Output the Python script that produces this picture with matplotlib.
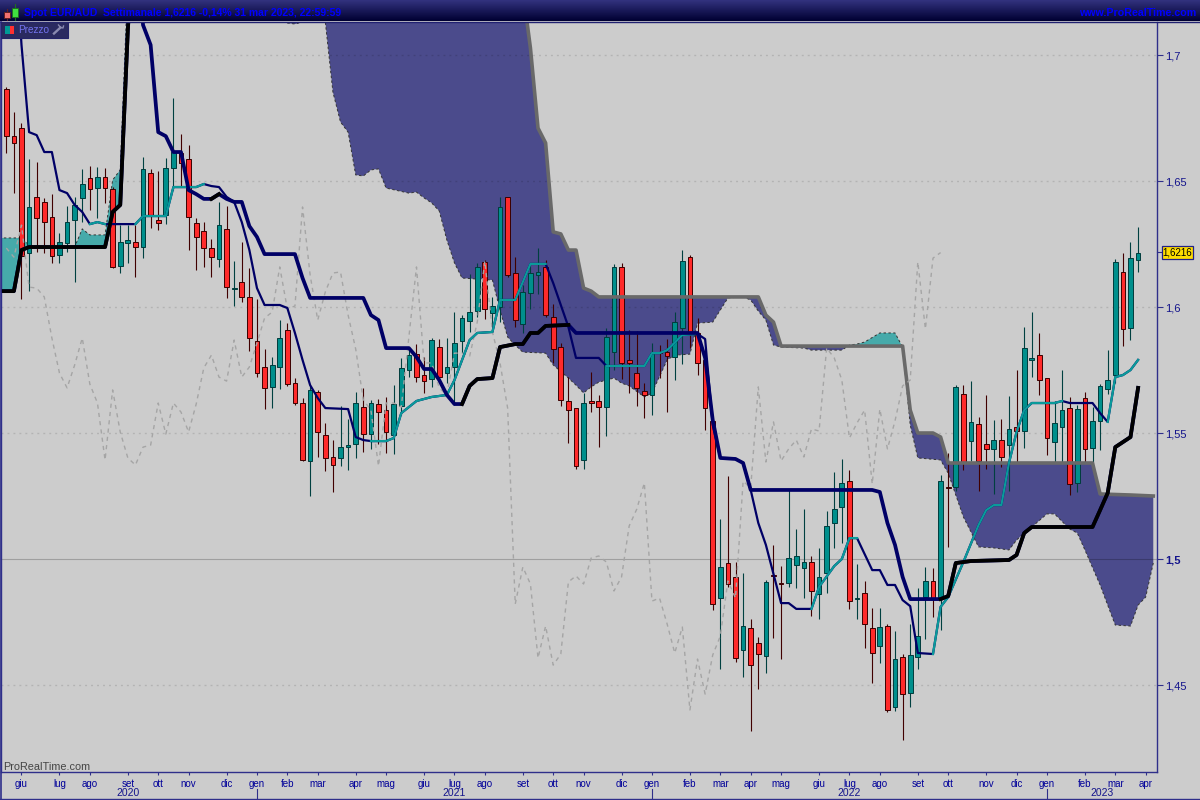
import matplotlib
matplotlib.use('Agg')
import matplotlib.pyplot as plt
import numpy as np
from matplotlib.colors import LinearSegmentedColormap
from matplotlib.patches import Rectangle

plt.rcParams['font.family'] = ['Liberation Sans', 'DejaVu Sans']

opens = [1.6865, 1.6678, 1.6710, 1.6214, 1.6437, 1.6417, 1.6357, 1.6206, 1.6254, 1.6345,
         1.6433, 1.6512, 1.6472, 1.6516, 1.6468, 1.6163, 1.6254, 1.6258, 1.6238, 1.6532,
         1.6345, 1.6365, 1.6552, 1.6611, 1.6587, 1.6333, 1.6302, 1.6234, 1.6190, 1.6310,
         1.6071, 1.6099, 1.6040, 1.5865, 1.5762, 1.5683, 1.5762, 1.5909, 1.5698, 1.5619,
         1.5389, 1.5663, 1.5492, 1.5405, 1.5401, 1.5444, 1.5456, 1.5603, 1.5496, 1.5615,
         1.5591, 1.5492, 1.5607, 1.5750, 1.5813, 1.5730, 1.5714, 1.5841, 1.5738, 1.5762,
         1.5865, 1.5944, 1.5984, 1.6179, 1.5976, 1.6000, 1.6437, 1.6135, 1.5933, 1.6056,
         1.6127, 1.6159, 1.5960, 1.5841, 1.5627, 1.5599, 1.5393, 1.5627, 1.5627, 1.5603,
         1.5821, 1.6159, 1.5790, 1.5738, 1.5667, 1.5651, 1.5821, 1.5821, 1.5802, 1.5917,
         1.6198, 1.5897, 1.5790, 1.5548, 1.4845, 1.4984, 1.4929, 1.4639, 1.4726, 1.4667,
         1.4615, 1.4937, 1.4905, 1.4905, 1.4976, 1.4964, 1.4988, 1.4861, 1.4944, 1.5143,
         1.5206, 1.5309, 1.4841, 1.4865, 1.4726, 1.4655, 1.4734, 1.4413, 1.4611, 1.4468,
         1.4611, 1.4849, 1.4913, 1.4845, 1.5286, 1.5286, 1.5655, 1.5468, 1.5536, 1.5456,
         1.5437, 1.5472, 1.5452, 1.5524, 1.5508, 1.5790, 1.5809, 1.5718, 1.5464, 1.5524,
         1.5599, 1.5302, 1.5639, 1.5440, 1.5548, 1.5675, 1.5730, 1.6139, 1.5917, 1.6187]
closes = [1.6678, 1.6651, 1.6202, 1.6397, 1.6353, 1.6337, 1.6202, 1.6258, 1.6337, 1.6405,
          1.6488, 1.6468, 1.6516, 1.6472, 1.6159, 1.6258, 1.6266, 1.6238, 1.6548, 1.6361,
          1.6333, 1.6552, 1.6615, 1.6571, 1.6357, 1.6278, 1.6234, 1.6198, 1.6325, 1.6079,
          1.6075, 1.6040, 1.5877, 1.5738, 1.5679, 1.5770, 1.5877, 1.5694, 1.5619, 1.5393,
          1.5671, 1.5504, 1.5401, 1.5373, 1.5444, 1.5452, 1.5619, 1.5496, 1.5619, 1.5583,
          1.5504, 1.5615, 1.5758, 1.5809, 1.5722, 1.5706, 1.5869, 1.5722, 1.5762, 1.5857,
          1.5956, 1.5980, 1.6159, 1.5992, 1.6004, 1.6397, 1.6127, 1.5948, 1.6060, 1.6135,
          1.6139, 1.5968, 1.5833, 1.5631, 1.5591, 1.5369, 1.5619, 1.5619, 1.5603, 1.5881,
          1.6159, 1.5778, 1.5778, 1.5679, 1.5651, 1.5817, 1.5817, 1.5805, 1.5940, 1.6182,
          1.5901, 1.5778, 1.5599, 1.4821, 1.4968, 1.4901, 1.4607, 1.4734, 1.4579, 1.4623,
          1.4909, 1.4933, 1.4901, 1.5004, 1.5012, 1.4988, 1.4873, 1.4929, 1.5131, 1.5198,
          1.5302, 1.4833, 1.4845, 1.4742, 1.4627, 1.4730, 1.4401, 1.4603, 1.4464, 1.4619,
          1.4694, 1.4913, 1.4845, 1.5309, 1.5282, 1.5683, 1.5385, 1.5544, 1.5389, 1.5437,
          1.5472, 1.5405, 1.5516, 1.5508, 1.5837, 1.5798, 1.5710, 1.5480, 1.5540, 1.5591,
          1.5298, 1.5595, 1.5437, 1.5548, 1.5687, 1.5710, 1.6179, 1.5913, 1.6194, 1.6216]
highs = [1.6873, 1.6774, 1.6730, 1.6587, 1.6575, 1.6433, 1.6448, 1.6294, 1.6401, 1.6437,
         1.6548, 1.6560, 1.6556, 1.6552, 1.6476, 1.6325, 1.6325, 1.6325, 1.6595, 1.6548,
         1.6540, 1.6591, 1.6829, 1.6686, 1.6643, 1.6353, 1.6337, 1.6270, 1.6417, 1.6401,
         1.6182, 1.6258, 1.6155, 1.6032, 1.5833, 1.5802, 1.5948, 1.5936, 1.5718, 1.5639,
         1.5690, 1.5671, 1.5540, 1.5472, 1.5607, 1.5556, 1.5663, 1.5679, 1.5631, 1.5635,
         1.5643, 1.5690, 1.5798, 1.5837, 1.5853, 1.5802, 1.5877, 1.5873, 1.5877, 1.5980,
         1.5968, 1.6131, 1.6175, 1.6187, 1.6040, 1.6437, 1.6437, 1.6198, 1.6087, 1.6171,
         1.6234, 1.6187, 1.6012, 1.5857, 1.5722, 1.5599, 1.5659, 1.5742, 1.5651, 1.5917,
         1.6171, 1.6175, 1.5909, 1.5905, 1.5698, 1.5857, 1.5849, 1.5873, 1.5980, 1.6226,
         1.6206, 1.5956, 1.5829, 1.5552, 1.5159, 1.5329, 1.4988, 1.4944, 1.4762, 1.4690,
         1.4917, 1.5056, 1.4972, 1.5274, 1.5119, 1.5198, 1.5012, 1.5044, 1.5190, 1.5345,
         1.5397, 1.5353, 1.4980, 1.4913, 1.4806, 1.4806, 1.4742, 1.4714, 1.4623, 1.4742,
         1.4885, 1.4968, 1.4964, 1.5333, 1.5421, 1.5690, 1.5690, 1.5706, 1.5563, 1.5651,
         1.5552, 1.5556, 1.5647, 1.5750, 1.5921, 1.5980, 1.5897, 1.5718, 1.5627, 1.5750,
         1.5643, 1.5611, 1.5663, 1.5603, 1.5694, 1.5829, 1.6190, 1.6214, 1.6258, 1.6317]
lows = [1.6611, 1.6452, 1.6032, 1.6063, 1.6218, 1.6214, 1.6175, 1.6175, 1.6218, 1.6099,
        1.6337, 1.6385, 1.6353, 1.6413, 1.6155, 1.6135, 1.6175, 1.6119, 1.6194, 1.6314,
        1.6306, 1.6329, 1.6464, 1.6476, 1.6226, 1.6147, 1.6159, 1.6119, 1.6159, 1.6036,
        1.6004, 1.6020, 1.5825, 1.5722, 1.5595, 1.5599, 1.5675, 1.5687, 1.5611, 1.5389,
        1.5250, 1.5405, 1.5349, 1.5266, 1.5369, 1.5353, 1.5401, 1.5425, 1.5437, 1.5456,
        1.5421, 1.5417, 1.5571, 1.5722, 1.5702, 1.5659, 1.5683, 1.5710, 1.5698, 1.5611,
        1.5817, 1.5901, 1.5960, 1.5952, 1.5921, 1.5940, 1.6119, 1.5921, 1.5897, 1.5992,
        1.6052, 1.5960, 1.5778, 1.5607, 1.5460, 1.5357, 1.5357, 1.5583, 1.5444, 1.5488,
        1.5750, 1.5714, 1.5659, 1.5607, 1.5560, 1.5571, 1.5718, 1.5583, 1.5710, 1.5774,
        1.5837, 1.5730, 1.5512, 1.4798, 1.4563, 1.4889, 1.4591, 1.4532, 1.4317, 1.4484,
        1.4548, 1.4687, 1.4603, 1.4889, 1.4885, 1.4845, 1.4774, 1.4762, 1.4865, 1.5044,
        1.5063, 1.4802, 1.4762, 1.4647, 1.4508, 1.4587, 1.4393, 1.4397, 1.4282, 1.4413,
        1.4563, 1.4683, 1.4770, 1.4718, 1.5048, 1.5270, 1.5353, 1.5389, 1.5270, 1.5357,
        1.5258, 1.5365, 1.5270, 1.5381, 1.5440, 1.5722, 1.5651, 1.5413, 1.5381, 1.5381,
        1.5254, 1.5266, 1.5381, 1.5381, 1.5433, 1.5655, 1.5698, 1.5845, 1.5869, 1.6139]

# thick ichimoku line, (week, price) at its corners
kijun_wk = [-1, 0, 1, 2, 3, 13, 14, 15, 16, 17, 18, 19, 20, 21, 22, 23, 24, 25, 26, 27, 28, 29, 30, 31, 32, 33, 34,
            38, 39, 40, 47, 48, 49, 50, 53, 54, 55, 56, 57, 58, 59, 60, 61, 62, 64, 65, 67, 68, 69, 70, 71, 74,
            75, 91, 92, 93, 94, 96, 97, 98, 114, 115, 116, 117, 118, 119, 123, 124, 125, 127, 132, 133, 134,
            135, 143, 144, 145, 146, 148, 149]
kijun_val = [1.6063, 1.6063, 1.6063, 1.6226, 1.6238, 1.6238, 1.6377, 1.6405, 1.7099, 1.7615, 1.7119, 1.7040, 1.6694,
             1.6678, 1.6615, 1.6615, 1.6464, 1.6448, 1.6429, 1.6429, 1.6448, 1.6429, 1.6417, 1.6417, 1.6321,
             1.6278, 1.6210, 1.6210, 1.6115, 1.6036, 1.6036, 1.5968, 1.5948, 1.5837, 1.5837, 1.5802, 1.5754,
             1.5754, 1.5710, 1.5651, 1.5615, 1.5615, 1.5687, 1.5714, 1.5718, 1.5841, 1.5853, 1.5853, 1.5897,
             1.5897, 1.5925, 1.5929, 1.5897, 1.5897, 1.5798, 1.5552, 1.5401, 1.5397, 1.5381, 1.5274, 1.5274,
             1.5266, 1.5143, 1.5056, 1.4929, 1.4841, 1.4841, 1.4853, 1.4984, 1.4992, 1.4996, 1.5016, 1.5103,
             1.5127, 1.5127, 1.5194, 1.5262, 1.5444, 1.5484, 1.5679]
kijun_black = [(-1, 17), (27, 28), (60, 74), (123, 149)]

# thin ichimoku line
tenkan_wk = [1, 2, 3, 4, 5, 6, 7, 8, 9, 10, 11, 12, 13, 17, 18, 21, 22, 25, 26, 27, 28, 29, 30, 31, 32, 33, 34,
             36, 37, 38, 39, 40, 41, 42, 45, 46, 47, 48, 50, 51, 52, 54, 56, 58, 59, 61, 62, 64, 65, 67, 69, 71,
             72, 74, 75, 78, 79, 84, 85, 86, 87, 89, 91, 92, 93, 94, 96, 97, 98, 99, 100, 102, 103, 104, 106,
             107, 109, 110, 111, 112, 114, 115, 116, 117, 118, 119, 120, 122, 123, 124, 126, 128, 129, 130,
             131, 132, 133, 134, 135, 138, 139, 140, 143, 144, 145, 146, 147, 148, 149]
tenkan_val = [1.7536, 1.7040, 1.6694, 1.6682, 1.6615, 1.6615, 1.6464, 1.6452, 1.6405, 1.6377, 1.6329, 1.6337,
              1.6329, 1.6329, 1.6361, 1.6361, 1.6476, 1.6476, 1.6488, 1.6480, 1.6476, 1.6437, 1.6417, 1.6337,
              1.6226, 1.6075, 1.6008, 1.6008, 1.5996, 1.5897, 1.5790, 1.5690, 1.5639, 1.5599, 1.5595, 1.5484,
              1.5472, 1.5468, 1.5468, 1.5480, 1.5579, 1.5627, 1.5643, 1.5651, 1.5710, 1.5869, 1.5897, 1.5901,
              1.6028, 1.6028, 1.6171, 1.6171, 1.6095, 1.5921, 1.5798, 1.5798, 1.5766, 1.5766, 1.5817, 1.5817,
              1.5829, 1.5889, 1.5893, 1.5873, 1.5532, 1.5401, 1.5397, 1.5381, 1.5274, 1.5143, 1.5056, 1.4825,
              1.4825, 1.4802, 1.4802, 1.4889, 1.4972, 1.5000, 1.5083, 1.5083, 1.4956, 1.4956, 1.4897, 1.4897,
              1.4837, 1.4813, 1.4627, 1.4623, 1.4810, 1.4849, 1.4988, 1.5135, 1.5194, 1.5214, 1.5214, 1.5381,
              1.5504, 1.5591, 1.5619, 1.5619, 1.5627, 1.5619, 1.5619, 1.5579, 1.5544, 1.5722, 1.5730, 1.5750,
              1.5790]
tenkan_teal = [(11, 13), (17, 26), (48, 71), (79, 91), (106, 112), (122, 139), (145, 149)]

# cloud edges, some corners sit above the visible range
span_a_wk = [-1, 0, 1, 2, 3, 4, 9, 10, 11, 13, 14, 15, 16, 36, 37, 38, 39, 42, 43, 44, 45, 46, 47, 48, 49, 50, 53, 54,
             55, 56, 57, 58, 59, 60, 64, 65, 66, 67, 68, 71, 72, 74, 75, 76, 77, 78, 80, 81, 82, 84, 85, 87, 88,
             90, 91, 93, 94, 95, 97, 98, 99, 100, 101, 102, 105, 106, 110, 111, 112, 113, 115, 117, 118, 119,
             120, 123, 124, 126, 128, 130, 132, 133, 134, 135, 137, 138, 140, 141, 142, 144, 145, 146, 148, 149,
             150, 151]
span_a_val = [1.6274, 1.6274, 1.6274, 1.6274, 1.6246, 1.6238, 1.6238, 1.6310, 1.6286, 1.6286, 1.6504, 1.6544, 1.7298,
              1.7298, 1.7127, 1.7123, 1.7131, 1.7131, 1.6853, 1.6734, 1.6694, 1.6524, 1.6520, 1.6544, 1.6548,
              1.6472, 1.6452, 1.6456, 1.6433, 1.6413, 1.6381, 1.6266, 1.6175, 1.6115, 1.6107, 1.5988, 1.5881,
              1.5849, 1.5821, 1.5817, 1.5770, 1.5718, 1.5690, 1.5659, 1.5683, 1.5702, 1.5718, 1.5698, 1.5687,
              1.5643, 1.5659, 1.5790, 1.5809, 1.5813, 1.5936, 1.5940, 1.5988, 1.6036, 1.6040, 1.6028, 1.5984,
              1.5948, 1.5849, 1.5841, 1.5837, 1.5829, 1.5829, 1.5849, 1.5853, 1.5861, 1.5897, 1.5897, 1.5841,
              1.5532, 1.5401, 1.5393, 1.5341, 1.5167, 1.5048, 1.5044, 1.5036, 1.5075, 1.5103, 1.5127, 1.5179,
              1.5179, 1.5119, 1.5103, 1.5036, 1.4897, 1.4817, 1.4738, 1.4734, 1.4817, 1.4849, 1.4984]
span_b_wk = [-1, 0, 1, 2, 3, 13, 14, 15, 16, 17, 68, 69, 70, 71, 72, 73, 74, 75, 76, 77, 78, 99, 100, 101, 102, 118,
             119, 120, 122, 123, 124, 143, 144, 148, 151]
span_b_val = [1.6063, 1.6063, 1.6063, 1.6226, 1.6238, 1.6238, 1.6377, 1.6405, 1.7079, 1.7377, 1.7258, 1.7028, 1.6710,
              1.6651, 1.6298, 1.6290, 1.6226, 1.6226, 1.6075, 1.6063, 1.6040, 1.6040, 1.5968, 1.5940, 1.5845,
              1.5845, 1.5591, 1.5500, 1.5500, 1.5484, 1.5381, 1.5381, 1.5258, 1.5254, 1.5250]

chikou_shift = 26

y_ticks = [1.45, 1.5, 1.55, 1.6, 1.65, 1.7]
y_labels = ['1,45', '1,5', '1,55', '1,6', '1,65', '1,7']
month_wk = [2, 7, 11, 16, 20, 24, 29, 33, 37, 41, 46, 50, 55, 59, 63, 68, 72, 76, 81, 85, 90, 94, 98, 102,
            107, 111, 115, 120, 124, 129, 133, 137, 142, 146, 150]
month_labels = ['giu', 'lug', 'ago', 'set', 'ott', 'nov', 'dic', 'gen', 'feb', 'mar', 'apr', 'mag',
                'giu', 'lug', 'ago', 'set', 'ott', 'nov', 'dic', 'gen', 'feb', 'mar', 'apr', 'mag',
                'giu', 'lug', 'ago', 'set', 'ott', 'nov', 'dic', 'gen', 'feb', 'mar', 'apr']
year_wk = [16, 59, 111, 144.3]
year_labels = ['2020', '2021', '2022', '2023']
year_sep_wk = [33, 85, 137]

BG = '#cccccc'
NAVY = '#000066'
FRAME = '#2f2f8a'
TEAL_LINE = '#0a9a9a'
LABEL = '#14148c'

fig = plt.figure(figsize=(12, 8), dpi=100, facecolor=BG)
ax = fig.add_axes([1 / 1200, 28 / 800, 1156 / 1200, 750 / 800], facecolor=BG)
ax.set_xlim(-0.698, 151.49)
ax.set_ylim(1.41548, 1.71310)

opens = np.array(opens)
closes = np.array(closes)
weeks = np.arange(len(opens))
kijun_wk = np.array(kijun_wk)
kijun_val = np.array(kijun_val)
tenkan_wk = np.array(tenkan_wk)
tenkan_val = np.array(tenkan_val)
span_a_wk = np.array(span_a_wk)
span_a_val = np.array(span_a_val)
span_b_wk = np.array(span_b_wk)
span_b_val = np.array(span_b_val)

# cloud
fill_x = np.linspace(-1, 151, 3041)
edge_a = np.interp(fill_x, span_a_wk, span_a_val)
edge_b = np.interp(fill_x, span_b_wk, span_b_val)
ax.fill_between(fill_x, edge_a, edge_b, where=edge_b >= edge_a, color='#4b4b8c', lw=0, zorder=1, interpolate=True)
ax.fill_between(fill_x, edge_a, edge_b, where=edge_a >= edge_b, color='#46aaaa', lw=0, zorder=1, interpolate=True)
ax.plot(span_a_wk, span_a_val, color='#333333', lw=0.7, ls=(0, (2.5, 2.5)), zorder=2)

# grid
for t in y_ticks:
    if t == 1.5:
        ax.axhline(t, color='black', alpha=0.22, lw=0.8, zorder=2)
    else:
        ax.axhline(t, color='black', alpha=0.12, lw=1.0, ls=(0, (1.4, 2.9)), zorder=2)

# candles
up = closes >= opens
ax.vlines(weeks[up], np.array(lows)[up], np.array(highs)[up], color='#004040', lw=0.8, zorder=3)
ax.vlines(weeks[~up], np.array(lows)[~up], np.array(highs)[~up], color='#400000', lw=0.8, zorder=3)
ax.bar(weeks[up], (closes - opens)[up], bottom=opens[up], width=0.62, color='#008f8c',
       edgecolor='#003c3c', lw=0.7, zorder=3)
ax.bar(weeks[~up], (opens - closes)[~up], bottom=closes[~up], width=0.62, color='#ff2a2a',
       edgecolor='#3a0000', lw=0.7, zorder=3)

# indicators
gray = span_b_wk >= 17
ax.plot(span_b_wk[gray], span_b_val[gray], color='#696969', lw=2.6, zorder=4, solid_joinstyle='round')
ax.plot(weeks[:-chikou_shift], closes[chikou_shift:], color='#a5a5a5', lw=1.0, ls=(0, (3, 3)), zorder=4)

ax.plot(tenkan_wk, tenkan_val, color=NAVY, lw=1.6, zorder=5)
for a, b in tenkan_teal:
    m = (tenkan_wk >= a) & (tenkan_wk <= b)
    ax.plot(tenkan_wk[m], tenkan_val[m], color=TEAL_LINE, lw=1.6, zorder=5)

ax.plot(kijun_wk, kijun_val, color=NAVY, lw=2.7, zorder=6)
for a, b in kijun_black:
    m = (kijun_wk >= a) & (kijun_wk <= b)
    ax.plot(kijun_wk[m], kijun_val[m], color='black', lw=2.7, zorder=6)

# axes
ax.spines['top'].set_visible(False)
for s in ['left', 'right', 'bottom']:
    ax.spines[s].set_color(FRAME)
    ax.spines[s].set_linewidth(1.0)

ax.yaxis.tick_right()
ax.set_yticks(y_ticks)
ax.set_yticklabels(y_labels)
ax.tick_params(axis='y', length=4, width=0.8, color=FRAME, labelcolor=LABEL, labelsize=8, pad=2)
ax.get_yticklabels()[1].set_fontweight('bold')

ax.set_xticks(month_wk)
ax.set_xticklabels(month_labels)
ax.tick_params(axis='x', length=2.5, width=0.8, color=FRAME, labelcolor='#000099', labelsize=7, pad=2.2)

trans = ax.get_xaxis_transform()
for x, lab in zip(year_wk, year_labels):
    ax.text(x, -0.0282, lab, transform=trans, ha='center', va='center', color=LABEL, fontsize=7.5, clip_on=False)
for x in year_sep_wk:
    ax.plot([x, x], [-0.0227, -0.0353], transform=trans, color=FRAME, lw=0.8, clip_on=False)

ax.text(0.002, 0.0067, 'ProRealTime.com', transform=ax.transAxes, ha='left', va='center',
        color='#444444', fontsize=7.8, zorder=7)

# window chrome in pixel coordinates
chrome = fig.add_axes([0, 0, 1, 1], zorder=10)
chrome.patch.set_visible(False)
chrome.axis('off')

head = LinearSegmentedColormap.from_list('head', ['#32327e', '#000032'])
chrome.imshow(np.linspace(0, 1, 32).reshape(-1, 1), cmap=head, extent=(0, 1200, 21, 0), aspect='auto', zorder=1)
chrome.set_xlim(0, 1200)
chrome.set_ylim(800, 0)
chrome.plot([0, 1200], [21.5, 21.5], color='#202070', lw=1, zorder=2)
chrome.plot([0, 1200], [799, 799], color=FRAME, lw=1, zorder=2)
chrome.plot([0.5, 0.5], [22, 800], color=FRAME, lw=1.2, zorder=2)

chrome.text(24, 12.5, 'Spot EUR/AUD  Settimanale 1,6216 -0,14% 31 mar 2023, 22:59:59', color='#0000ff',
            fontsize=7.5, fontweight='bold', ha='left', va='center', zorder=3)
chrome.text(1196, 12.5, 'www.ProRealTime.com', color='#0000ff', fontsize=7.7, fontweight='bold',
            ha='right', va='center', zorder=3)

# header candle icon
chrome.plot([6.5, 6.5], [9, 20], color='#602020', lw=0.8, zorder=3)
chrome.add_patch(Rectangle((3.5, 11.5), 6, 6, fc='#f07070', ec='#602020', lw=0.7, zorder=4))
chrome.plot([14.5, 14.5], [4, 20], color='#207020', lw=0.8, zorder=3)
chrome.add_patch(Rectangle((11.5, 7.5), 6, 9, fc='#40e040', ec='#207020', lw=0.7, zorder=4))

# indicator tab
chrome.add_patch(Rectangle((1, 22), 67, 15.5, fc='#2a2a60', ec='#24246a', lw=0.8, zorder=3))
chrome.add_patch(Rectangle((5, 25.5), 4.5, 8.5, fc='#009a96', lw=0, zorder=4))
chrome.add_patch(Rectangle((9.5, 25.5), 4.5, 8.5, fc='#ff3030', lw=0, zorder=4))
chrome.text(18.5, 30, 'Prezzo', color='#7272ee', fontsize=7.2, ha='left', va='center', zorder=4)
chrome.plot([54, 60.5], [33.5, 27.5], color='#8a8ab0', lw=1.7, zorder=4)
chrome.plot([58.5, 60.5, 63, 63.5], [25, 27.5, 28, 26], color='#8a8ab0', lw=1.0, zorder=4)

# last price flag
chrome.plot([1157, 1161.5], [252, 252], color=FRAME, lw=0.8, zorder=3)
chrome.add_patch(Rectangle((1161.5, 245.5), 31, 13.5, fc='#ffdd00', ec='#20208a', lw=0.9, zorder=3))
chrome.text(1177, 252.5, '1,6216', color='black', fontsize=7, ha='center', va='center', zorder=4)

fig.savefig('out.png', dpi=100, facecolor=BG)
